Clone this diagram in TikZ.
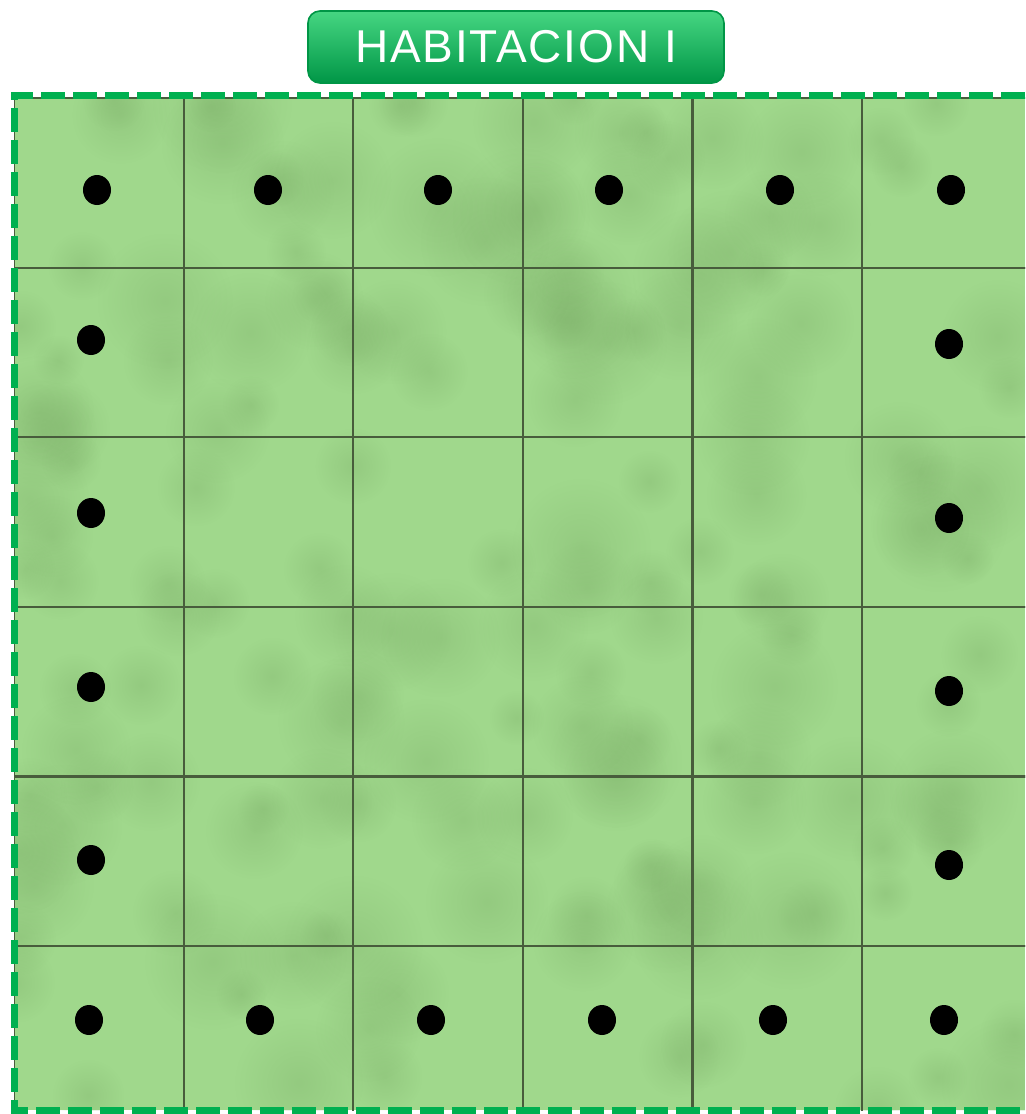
\documentclass[tikz,border=0pt]{standalone}
\usepackage{fontspec}
\setmainfont{Liberation Sans}
\usetikzlibrary{shapes.geometric, positioning, fadings}
\definecolor{floorgreen}{RGB}{160,216,140}
\definecolor{floordark}{RGB}{120,170,100}
\definecolor{gridline}{RGB}{72,92,60}
\definecolor{borderg}{RGB}{0,176,80}
\definecolor{titleg}{RGB}{12,184,90}
\definecolor{titlelight}{RGB}{70,214,130}
\definecolor{titledark}{RGB}{0,150,70}
\tikzfading[name=blobfade, inner color=transparent!0, outer color=transparent!100]

\begin{document}
\begin{tikzpicture}[x=0.5pt, y=-0.5pt,
  tile/.style={draw=gridline, line width=1.1pt, minimum size=84.8pt,
               anchor=north west, inner sep=0pt, outer sep=0pt},
  dot/.style={ellipse, fill=black, inner sep=0pt,
              minimum width=14pt, minimum height=15pt},
  border/.style={draw=borderg, line width=3.5pt, dash pattern=on 12pt off 4pt},
  titlebox/.style={rounded corners=6pt, draw=titledark, line width=0.8pt,
                   top color=titlelight, middle color=titleg, bottom color=titledark,
                   minimum width=208pt, minimum height=36pt, text=white,
                   font=\fontsize{23}{23}\selectfont\addfontfeatures{LetterSpace=4}}
]
\useasboundingbox (0,0) rectangle (1025,1114);

% floor
\begin{scope}
  \clip (14,97) rectangle (1025,1110);
  \fill[floorgreen] (14,97) rectangle (1025,1110);
  \pgfmathsetseed{11}
  \foreach \k in {1,...,160}{
    \pgfmathsetmacro\bx{14+1011*rnd}
    \pgfmathsetmacro\by{97+1013*rnd}
    \pgfmathsetmacro\br{25+45*rnd}
    \fill[floordark, path fading=blobfade, opacity=0.3]
      (\bx,\by) circle (\br);
  }
  \foreach \r in {0,...,5}
    \foreach \c in {0,...,5}
      \node[tile] (tile-\r-\c) at ({14+169.6*\c},{98+169.6*\r}) {};
\end{scope}

% markers
\foreach \x/\y [count=\i] in {97/190, 268/190, 438/190, 609/190, 780/190, 951/190,
                              91/340, 91/513, 91/687, 91/860,
                              949/344, 949/518, 949/691, 949/865,
                              89/1020, 260/1020, 431/1020, 602/1020, 773/1020, 944/1020}
  \node[dot] (dot\i) at (\x,\y) {};

\draw[border] (1025,95) -- (14,95) -- (14,1110) -- (1025,1110);

\node[titlebox] (title) at (516,47) {HABITACION I};
\end{tikzpicture}
\end{document}
